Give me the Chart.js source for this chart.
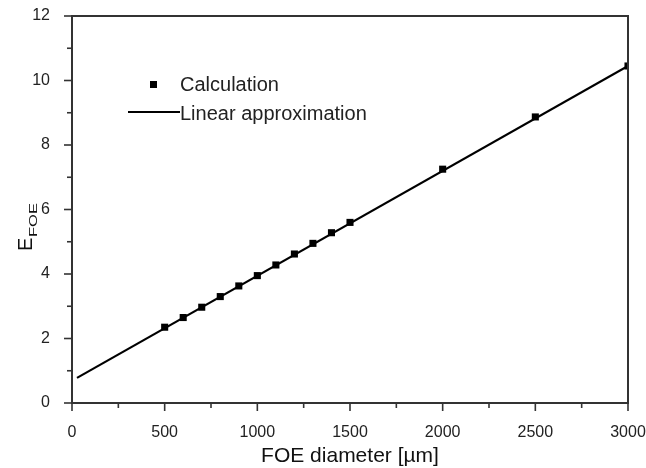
<!DOCTYPE html>
<html>
<head>
<meta charset="utf-8">
<script src="https://cdn.jsdelivr.net/npm/chart.js@4"></script>
<style>
  html, body { margin: 0; padding: 0; background: #fff; }
  #wrap { width: 646px; height: 468px; }
</style>
</head>
<body>
<div id="wrap"><canvas id="foeChart"></canvas></div>
<script>
// values
const diameters = [500, 600, 700, 800, 900, 1000, 1100, 1200, 1300, 1400, 1500, 2000, 2500, 3000];
const efoeValues = [2.35, 2.65, 2.97, 3.3, 3.63, 3.95, 4.28, 4.62, 4.95, 5.28, 5.6, 7.25, 8.87, 10.45];
const fitX = [27, 3000];
const fitY = [0.78, 10.45];
const xTicks = [0, 500, 1000, 1500, 2000, 2500, 3000];
const yTicks = [0, 2, 4, 6, 8, 10, 12];

const FONT = "'Liberation Sans', Arial, sans-serif";

// frame, ticks, titles and legend drawn on top of the chart
const framePlugin = {
  id: "frame",
  afterDraw(chart) {
    const ctx = chart.ctx;
    const a = chart.chartArea;
    const xs = chart.scales.x;
    const ys = chart.scales.y;
    ctx.save();
    ctx.strokeStyle = "#333";
    ctx.lineWidth = 2;
    ctx.strokeRect(a.left, a.top, a.right - a.left, a.bottom - a.top);

    // x ticks (major every 500, minor every 250)
    ctx.lineWidth = 1.6;
    for (let v = 0; v <= 3000; v += 250) {
      const px = xs.getPixelForValue(v);
      const len = v % 500 === 0 ? 8 : 5;
      ctx.beginPath();
      ctx.moveTo(px, a.bottom);
      ctx.lineTo(px, a.bottom + len);
      ctx.stroke();
    }
    // y ticks (major every 2, minor every 1)
    for (let v = 0; v <= 12; v += 1) {
      const py = ys.getPixelForValue(v);
      const len = v % 2 === 0 ? 8 : 5;
      ctx.beginPath();
      ctx.moveTo(a.left, py);
      ctx.lineTo(a.left - len, py);
      ctx.stroke();
    }

    // x title
    ctx.fillStyle = "#111";
    ctx.font = "21px " + FONT;
    ctx.textAlign = "center";
    ctx.textBaseline = "alphabetic";
    ctx.fillText("FOE diameter [\u00b5m]", (a.left + a.right) / 2, 462);

    // y title E with subscript FOE
    ctx.save();
    ctx.translate(32, 251);
    ctx.rotate(-Math.PI / 2);
    ctx.textAlign = "left";
    ctx.font = "20px " + FONT;
    ctx.fillText("E", 0, 0);
    ctx.translate(14, 5);
    ctx.scale(1.5, 1);
    ctx.font = "11px " + FONT;
    ctx.fillText("FOE", 0, 0);
    ctx.restore();

    // legend
    ctx.fillStyle = "#000";
    ctx.fillRect(150, 81, 7, 7);
    ctx.strokeStyle = "#000";
    ctx.lineWidth = 2;
    ctx.beginPath();
    ctx.moveTo(128, 112);
    ctx.lineTo(180, 112);
    ctx.stroke();
    ctx.fillStyle = "#222";
    ctx.font = "20px " + FONT;
    ctx.textAlign = "left";
    ctx.textBaseline = "middle";
    ctx.fillText("Calculation", 180, 85);
    ctx.fillText("Linear approximation", 180, 114);
    ctx.restore();
  }
};

new Chart(document.getElementById("foeChart"), {
  type: "scatter",
  data: {
    datasets: [
      {
        label: "Linear approximation",
        data: fitX.map((x, i) => ({ x: x, y: fitY[i] })),
        showLine: true,
        borderColor: "#000",
        borderWidth: 2.2,
        pointRadius: 0,
        order: 2
      },
      {
        label: "Calculation",
        data: diameters.map((x, i) => ({ x: x, y: efoeValues[i] })),
        pointStyle: "rect",
        pointRadius: 5,
        backgroundColor: "#000",
        borderColor: "#000",
        borderWidth: 0,
        order: 1
      }
    ]
  },
  options: {
    responsive: true,
    maintainAspectRatio: false,
    animation: false,
    layout: { padding: { top: 16, right: 18, left: 0, bottom: 0 } },
    plugins: { legend: { display: false }, tooltip: { enabled: false } },
    scales: {
      x: {
        type: "linear",
        min: 0,
        max: 3000,
        afterFit(scale) {
          scale.height = 65;
          scale.paddingLeft = 0;
          scale.paddingRight = 0;
        },
        afterBuildTicks(scale) { scale.ticks = xTicks.map(v => ({ value: v })); },
        grid: { display: false },
        border: { display: false },
        ticks: {
          color: "#222", font: { family: FONT, size: 16 }, padding: 12, maxRotation: 0,
          callback: v => String(v)
        }
      },
      y: {
        type: "linear",
        min: 0,
        max: 12,
        afterFit(scale) {
          scale.width = 72;
          scale.paddingTop = 0;
          scale.paddingBottom = 0;
        },
        afterBuildTicks(scale) { scale.ticks = yTicks.map(v => ({ value: v })); },
        grid: { display: false },
        border: { display: false },
        ticks: {
          color: "#222", font: { family: FONT, size: 16 }, padding: 14,
          callback: v => String(v)
        }
      }
    }
  },
  plugins: [framePlugin]
});
</script>
</body>
</html>
